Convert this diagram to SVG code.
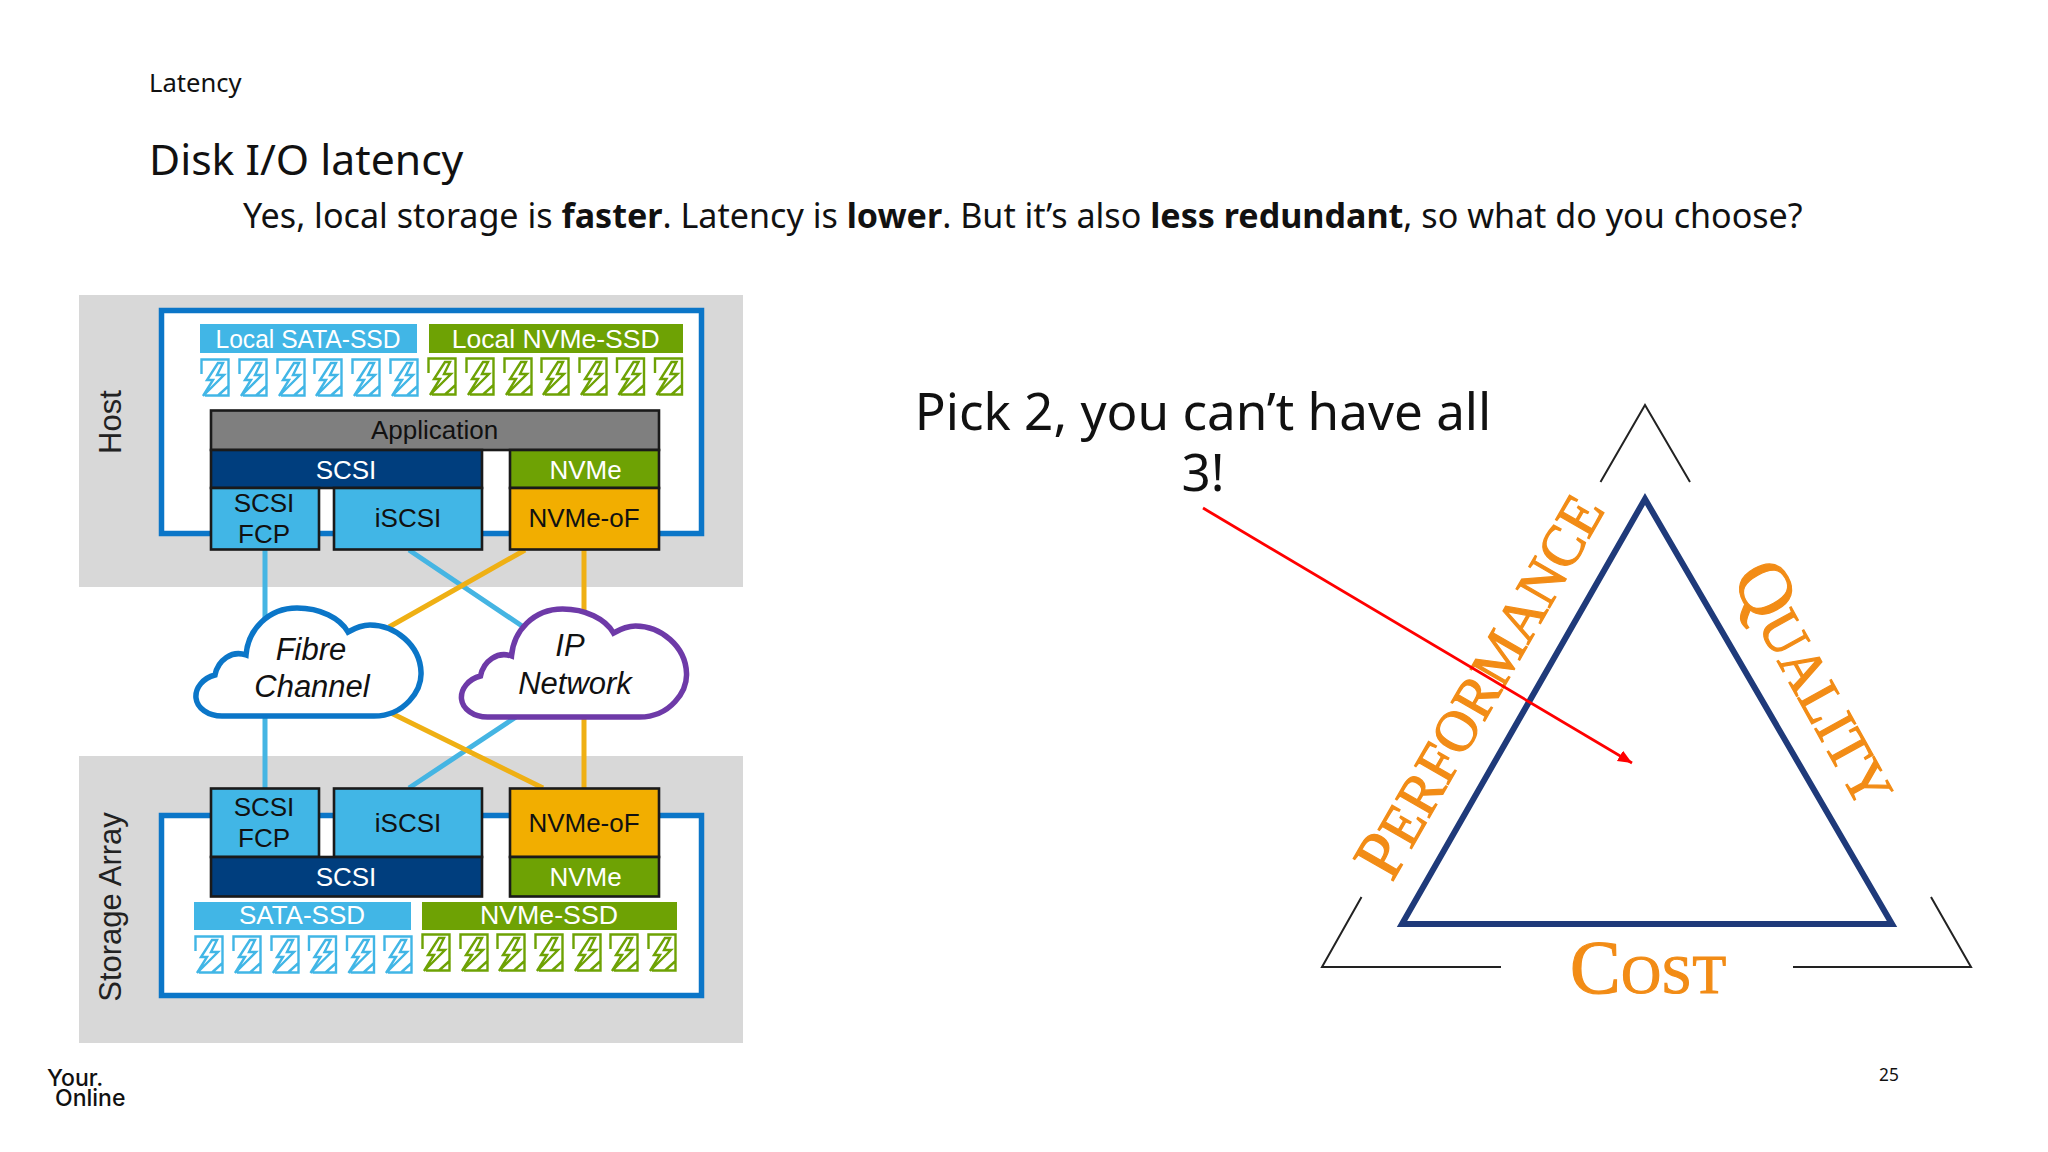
<svg xmlns="http://www.w3.org/2000/svg" xmlns:xlink="http://www.w3.org/1999/xlink" width="2048" height="1152" viewBox="0 0 2048 1152">
<style>
.s{font-family:"Noto Sans","Open Sans",sans-serif;fill:#111}
.a{font-family:"Liberation Sans",Arial,sans-serif;font-size:26px;text-anchor:middle;fill:#111}
.w{fill:#fff}
.i{font-style:italic;font-size:31px}
.v{font-size:31px;fill:#222}
.box{stroke:#1a1a1a;stroke-width:2.6}
.frame{fill:#fff;stroke:#0b76c8;stroke-width:5.5}
.panel{fill:#d8d8d8}
.lb{fill:#41b6e6}.gr{fill:#6ea204}.nv{fill:#003e7e}.or{fill:#f2ae00}.gy{fill:#7f7f7f}
.ic{fill:none;stroke-width:2.4}
.icb{stroke:#41b6e6}.icg{stroke:#6ea204}
.cb{stroke:#45b5e3;stroke-width:5;fill:none}
.co{stroke:#efb014;stroke-width:5;fill:none}
.cl{fill:#fff;stroke-width:5.5}
.t{fill:none;stroke:#222;stroke-width:2}
.q{font-family:"Liberation Serif","Times New Roman",serif;font-size:55px;fill:#f28c16;stroke:#f28c16;stroke-width:1.2}
.q .b{font-size:76px}
.q .p{font-size:70px}
.q .m{font-size:59px}
</style>
<defs>
<g id="ssd"><path d="M1.5,16 V1.5 H28.5 V37.5 H5 M18,37.5 L28.5,28 V37.5 Z M18,5 L7,22 H13 L3,38 L24,17 H17 L23,5 Z"/></g>
<path id="cloud" d="M222,716 L374,716 C405,716 422,690 421,672 C420,645 395,625 370,625 C362,625 355,628 348,632 C340,618 320,608 297,608 C268,608 248,630 246,655 C232,650 218,660 215,675 C203,678 195,688 196,698 C197,708 208,716 222,716 Z"/>
<marker id="ah" markerUnits="userSpaceOnUse" markerWidth="16" markerHeight="14" refX="14" refY="6" orient="auto"><path d="M0,0 L14,6 L0,12 Z" fill="#f00"/></marker>
</defs>
<rect width="2048" height="1152" fill="#fff"/>
<g id="header">
<text class="s" x="149" y="92" font-size="25.6">Latency</text>
<text class="s" x="149" y="175" font-size="42.7">Disk I/O latency</text>
<text class="s" x="243" y="228" font-size="34.1">Yes, local storage is <tspan font-weight="700">faster</tspan>. Latency is <tspan font-weight="700">lower</tspan>. But it’s also <tspan font-weight="700">less redundant</tspan>, so what do you choose?</text>
</g>
<g id="panels">
<rect class="panel" x="79" y="295" width="664" height="292"/>
<rect class="panel" x="79" y="756" width="664" height="287"/>
<rect class="frame" x="161.5" y="310.5" width="540" height="223"/>
<rect class="frame" x="161.5" y="815.5" width="540" height="180"/>
<text class="a v" transform="translate(121 422) rotate(-90)">Host</text>
<text class="a v" transform="translate(121 907) rotate(-90)">Storage Array</text>
</g>
<g id="connectors">
<path class="cb" d="M265,550 V625 M409,550 L525,628 M265,712 V788 M409,788 L516,717"/>
<path class="co" d="M525,550 L389,627 M584,550 V612 M391,713 L543,788 M584,716 V788"/>
</g>
<g id="host-drives">
<rect class="lb" x="200" y="324" width="217" height="29"/>
<text class="a w" x="308" y="348" textLength="185" lengthAdjust="spacingAndGlyphs">Local SATA-SSD</text>
<rect class="gr" x="429" y="324" width="254" height="29"/>
<text class="a w" x="555.7" y="348" textLength="208" lengthAdjust="spacingAndGlyphs">Local NVMe-SSD</text>
<g class="ic icb"><use href="#ssd" x="200" y="358"/><use href="#ssd" x="238" y="358"/><use href="#ssd" x="276" y="358"/><use href="#ssd" x="313" y="358"/><use href="#ssd" x="351" y="358"/><use href="#ssd" x="389" y="358"/></g>
<g class="ic icg"><use href="#ssd" x="427" y="357"/><use href="#ssd" x="465" y="357"/><use href="#ssd" x="503" y="357"/><use href="#ssd" x="540" y="357"/><use href="#ssd" x="578" y="357"/><use href="#ssd" x="615.5" y="357"/><use href="#ssd" x="653.5" y="357"/></g>
</g>
<g id="host-application"><rect class="box gy" x="211" y="410.5" width="448" height="39.5"/><text class="a" x="434.5" y="439" font-size="27">Application</text></g>
<g id="host-scsi"><rect class="box nv" x="211" y="450" width="271" height="38"/><text class="a w" x="346" y="479">SCSI</text></g>
<g id="host-nvme"><rect class="box gr" x="510" y="450" width="149" height="38"/><text class="a w" x="585.5" y="479">NVMe</text></g>
<g id="host-fcp"><rect class="box lb" x="211" y="488" width="108" height="61.5"/><text class="a" x="264" y="512">SCSI</text><text class="a" x="264" y="543">FCP</text></g>
<g id="host-iscsi"><rect class="box lb" x="334" y="488" width="148" height="61.5"/><text class="a" x="408" y="527">iSCSI</text></g>
<g id="host-nvmeof"><rect class="box or" x="510" y="488" width="149" height="61.5"/><text class="a" x="584" y="527">NVMe-oF</text></g>
<g id="fibre-channel"><use href="#cloud" class="cl" stroke="#0b76c8"/><text class="a i" x="311" y="660">Fibre</text><text class="a i" x="312" y="697">Channel</text></g>
<g id="ip-network"><use href="#cloud" class="cl" stroke="#6e3aa8" x="265.5" y="1"/><text class="a i" x="570" y="656">IP</text><text class="a i" x="575" y="694">Network</text></g>
<g id="array-fcp"><rect class="box lb" x="211" y="788.5" width="108" height="68.5"/><text class="a" x="264" y="816">SCSI</text><text class="a" x="264" y="847">FCP</text></g>
<g id="array-iscsi"><rect class="box lb" x="334" y="788.5" width="148" height="68.5"/><text class="a" x="408" y="832">iSCSI</text></g>
<g id="array-nvmeof"><rect class="box or" x="510" y="788.5" width="149" height="68.5"/><text class="a" x="584" y="832">NVMe-oF</text></g>
<g id="array-scsi"><rect class="box nv" x="211" y="857" width="271" height="39.5"/><text class="a w" x="346" y="886">SCSI</text></g>
<g id="array-nvme"><rect class="box gr" x="510" y="857" width="149" height="39.5"/><text class="a w" x="585.5" y="886">NVMe</text></g>
<g id="array-drives">
<rect class="lb" x="194" y="902" width="217" height="28"/>
<text class="a w" x="302" y="924">SATA-SSD</text>
<rect class="gr" x="422" y="902" width="255" height="28"/>
<text class="a w" x="549" y="924" textLength="138" lengthAdjust="spacingAndGlyphs">NVMe-SSD</text>
<g class="ic icb"><use href="#ssd" x="194" y="935"/><use href="#ssd" x="232" y="935"/><use href="#ssd" x="270" y="935"/><use href="#ssd" x="307.5" y="935"/><use href="#ssd" x="345.5" y="935"/><use href="#ssd" x="383" y="935"/></g>
<g class="ic icg"><use href="#ssd" x="421" y="933"/><use href="#ssd" x="459" y="933"/><use href="#ssd" x="496" y="933"/><use href="#ssd" x="534" y="933"/><use href="#ssd" x="572" y="933"/><use href="#ssd" x="609" y="933"/><use href="#ssd" x="647" y="933"/></g>
</g>
<g id="triangle">
<path class="t" d="M1600.5,482 L1645,405 L1690,482 M1361.5,897 L1322,967 H1501 M1931,897 L1971,967 H1793"/>
<polygon points="1402,924 1645,499 1892,924" fill="none" stroke="#1f3a7a" stroke-width="6"/>
<text class="q" transform="translate(1392 883) rotate(-60.2)" textLength="430" lengthAdjust="spacingAndGlyphs"><tspan class="p">P</tspan><tspan class="m">ERFORMANCE</tspan></text>
<text class="q" transform="translate(1731 578) rotate(61)" textLength="266" lengthAdjust="spacingAndGlyphs"><tspan class="b">Q</tspan><tspan class="m">UALITY</tspan></text>
<text class="q" x="1570" y="993" textLength="156"><tspan class="b">C</tspan>OST</text>
</g>
<g id="callout">
<text class="s" x="1203" y="430" font-size="51.2" text-anchor="middle">Pick 2, you can’t have all</text>
<text class="s" x="1203" y="491" font-size="51.2" text-anchor="middle">3!</text>
<line x1="1203" y1="508" x2="1632" y2="763" stroke="#f00" stroke-width="2.8" marker-end="url(#ah)"/>
</g>
<g id="footer">
<text x="47" y="1086" font-family="Inter,sans-serif" font-size="23" font-weight="500" fill="#111">Your.</text>
<text x="55" y="1106" font-family="Inter,sans-serif" font-size="23" font-weight="500" fill="#111">Online</text>
<text class="s" x="1879" y="1081" font-size="17.3">25</text>
</g>
</svg>
